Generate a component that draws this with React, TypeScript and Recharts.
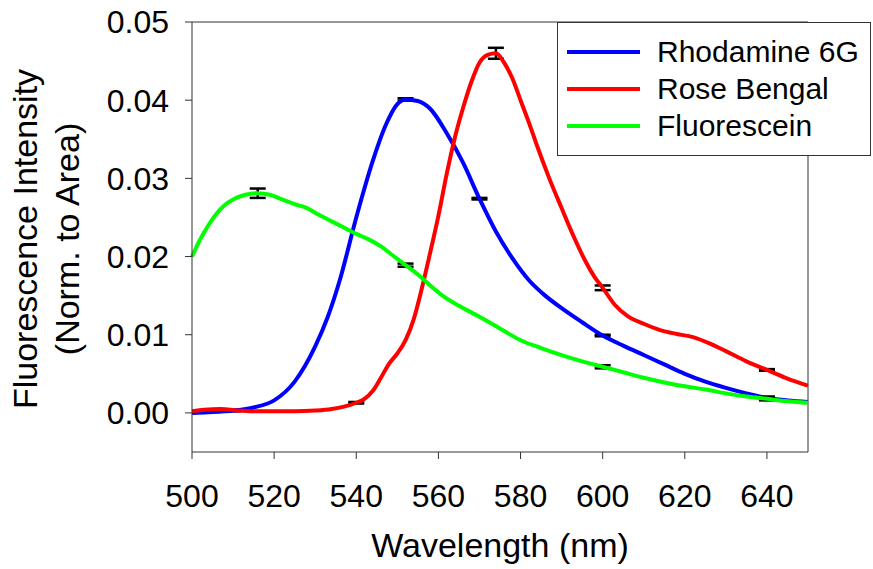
import React from 'react';
import { LineChart, Line, XAxis, YAxis, ErrorBar, ReferenceLine, Legend, Label } from 'recharts';

const FONT = '"Liberation Sans", Arial, Helvetica, sans-serif';
const AXIS = '#333333';

const xTicks = [500, 520, 540, 560, 580, 600, 620, 640];
const yTicks = [0, 0.01, 0.02, 0.03, 0.04, 0.05];
const legendOrder = ['Rhodamine 6G', 'Rose Bengal', 'Fluorescein'];

// Rhodamine 6G
const rhodWl = [500, 505, 510, 515, 520, 525, 530, 533, 536, 540, 544, 547, 550, 552, 555, 558, 562, 566, 570, 574, 578, 582, 586, 590, 595, 600, 605, 610, 615, 620, 625, 630, 635, 640, 645, 650];
const rhodVal = [0.0000, 0.0001, 0.0003, 0.0007, 0.0016, 0.0040, 0.0085, 0.0122, 0.0170, 0.0250, 0.0322, 0.0366, 0.0395, 0.0401, 0.0399, 0.0389, 0.0358, 0.0320, 0.0274, 0.0232, 0.0198, 0.0170, 0.0150, 0.0134, 0.0116, 0.0099, 0.0086, 0.0074, 0.0062, 0.0050, 0.0040, 0.0032, 0.0025, 0.0019, 0.0016, 0.0014];
const rhodErrWl = [510, 552, 570, 600, 640];
const rhodErr = [0.0001, 0.00015, 0.0001, 0.0001, 0.0002];

// Rose Bengal
const roseWl = [500, 503, 507, 511, 515, 520, 525, 530, 534, 537, 540, 542, 544, 546, 548, 550, 552, 554, 556, 558, 560, 562, 564, 566, 568, 570, 572, 574, 576, 578, 580, 582, 584, 587, 590, 593, 596, 598, 600, 603, 606, 610, 614, 618, 622, 626, 630, 635, 640, 645, 650];
const roseVal = [0.0002, 0.0004, 0.0005, 0.0003, 0.0002, 0.0002, 0.0002, 0.0003, 0.0005, 0.0008, 0.0013, 0.0018, 0.0028, 0.0045, 0.0063, 0.0076, 0.0093, 0.0120, 0.0160, 0.0205, 0.0252, 0.0305, 0.0352, 0.0390, 0.0423, 0.0448, 0.0458, 0.0460, 0.0448, 0.0428, 0.0400, 0.0372, 0.0342, 0.0300, 0.0262, 0.0225, 0.0192, 0.0174, 0.0160, 0.0138, 0.0124, 0.0114, 0.0106, 0.0101, 0.0097, 0.0089, 0.0079, 0.0066, 0.0055, 0.0044, 0.0035];
const roseErrWl = [540, 574, 600, 640];
const roseErr = [0.0001, 0.0007, 0.0003, 0.0001];

// Fluorescein
const fluoWl = [500, 502, 504, 506, 508, 510, 513, 516, 519, 522, 525, 528, 531, 534, 537, 540, 543, 546, 549, 552, 555, 558, 561, 565, 570, 575, 580, 585, 590, 595, 600, 605, 610, 615, 620, 625, 630, 635, 640, 645, 650];
const fluoVal = [0.0200, 0.0222, 0.0240, 0.0255, 0.0266, 0.0273, 0.0279, 0.0281, 0.0279, 0.0273, 0.0267, 0.0262, 0.0253, 0.0245, 0.0237, 0.0229, 0.0222, 0.0213, 0.0201, 0.0189, 0.0177, 0.0163, 0.0150, 0.0137, 0.0123, 0.0108, 0.0093, 0.0083, 0.0074, 0.0066, 0.0059, 0.0052, 0.0045, 0.0039, 0.0034, 0.0030, 0.0025, 0.0021, 0.0018, 0.0015, 0.0013];
const fluoErrWl = [516, 552, 600, 640];
const fluoErr = [0.0006, 0.0002, 0.0002, 0.0002];

const build = (wls: number[], vals: number[], errWl: number[], errs: number[]) =>
  wls.map((wl, i) => {
    const k = errWl.indexOf(wl);
    return { wl, v: vals[i], err: k >= 0 ? errs[k] : undefined };
  });

const rhodData = build(rhodWl, rhodVal, rhodErrWl, rhodErr);
const roseData = build(roseWl, roseVal, roseErrWl, roseErr);
const fluoData = build(fluoWl, fluoVal, fluoErrWl, fluoErr);

const YTitle = (props: any) => {
  const vb = props.viewBox || { x: 0, y: 22, width: 192, height: 430 };
  const cy = vb.y + vb.height / 2 + 2;
  const x1 = vb.x + 37;
  const x2 = vb.x + 79;
  return (
    <g>
      <text x={x1} y={cy} transform={`rotate(-90, ${x1}, ${cy})`} textAnchor="middle" fontSize={34} fontFamily={FONT} fill="#000">
        Fluorescence Intensity
      </text>
      <text x={x2} y={cy} transform={`rotate(-90, ${x2}, ${cy})`} textAnchor="middle" fontSize={34} fontFamily={FONT} fill="#000">
        (Norm. to Area)
      </text>
    </g>
  );
};

const renderLegend = (props: any) => {
  const payload = [...(props.payload || [])].sort(
    (a: any, b: any) => legendOrder.indexOf(a.value) - legendOrder.indexOf(b.value)
  );
  return (
    <div
      style={{
        boxSizing: 'border-box',
        width: 314,
        height: 134,
        border: `1px solid ${AXIS}`,
        background: '#fff',
        paddingTop: 10,
        fontFamily: FONT,
      }}
    >
      {payload.map((entry: any) => (
        <div key={entry.value} style={{ display: 'flex', alignItems: 'center', height: 37 }}>
          <div style={{ marginLeft: 9, width: 73, height: 4, background: entry.color }} />
          <span style={{ marginLeft: 17, fontSize: 30, lineHeight: '37px', color: '#000', whiteSpace: 'nowrap' }}>
            {entry.value}
          </span>
        </div>
      ))}
    </div>
  );
};

export default function App() {
  return (
    <div style={{ position: 'absolute', left: 0, top: 0, background: '#fff' }}>
      <LineChart width={873} height={569} margin={{ top: 22, right: 65, bottom: 0, left: 0 }}>
        <XAxis
          dataKey="wl"
          type="number"
          domain={[500, 650]}
          ticks={xTicks}
          allowDuplicatedCategory={false}
          height={117}
          stroke={AXIS}
          tickSize={7}
          tickMargin={25}
          tick={{ fontSize: 32, fill: '#000', fontFamily: FONT }}
          label={{ value: 'Wavelength (nm)', position: 'insideBottom', offset: 12, fontSize: 34, fill: '#000', fontFamily: FONT }}
        />
        <YAxis
          type="number"
          domain={[-0.005, 0.05]}
          ticks={yTicks}
          width={192}
          stroke={AXIS}
          tickSize={7}
          tickMargin={16}
          tickFormatter={(v: number) => v.toFixed(2)}
          tick={{ fontSize: 32, fill: '#000', fontFamily: FONT }}
        >
          <Label content={YTitle} />
        </YAxis>
        <ReferenceLine y={0.05} stroke={AXIS} strokeWidth={1} />
        <ReferenceLine x={650} stroke={AXIS} strokeWidth={1} />
        <Line data={rhodData} dataKey="v" name="Rhodamine 6G" type="monotone" stroke="#0000FF" strokeWidth={4} dot={false} activeDot={false} isAnimationActive={false}>
          <ErrorBar dataKey="err" direction="y" width={8} stroke="#000" strokeWidth={2.5} isAnimationActive={false} />
        </Line>
        <Line data={roseData} dataKey="v" name="Rose Bengal" type="monotone" stroke="#FF0000" strokeWidth={4} dot={false} activeDot={false} isAnimationActive={false}>
          <ErrorBar dataKey="err" direction="y" width={8} stroke="#000" strokeWidth={2.5} isAnimationActive={false} />
        </Line>
        <Line data={fluoData} dataKey="v" name="Fluorescein" type="monotone" stroke="#00FF00" strokeWidth={4} dot={false} activeDot={false} isAnimationActive={false}>
          <ErrorBar dataKey="err" direction="y" width={8} stroke="#000" strokeWidth={2.5} isAnimationActive={false} />
        </Line>
        <Legend
          layout="horizontal"
          verticalAlign="middle"
          align="center"
          itemSorter={null as any}
          content={renderLegend}
          wrapperStyle={{ left: 557, top: 22, width: 314, height: 134 }}
        />
      </LineChart>
    </div>
  );
}
